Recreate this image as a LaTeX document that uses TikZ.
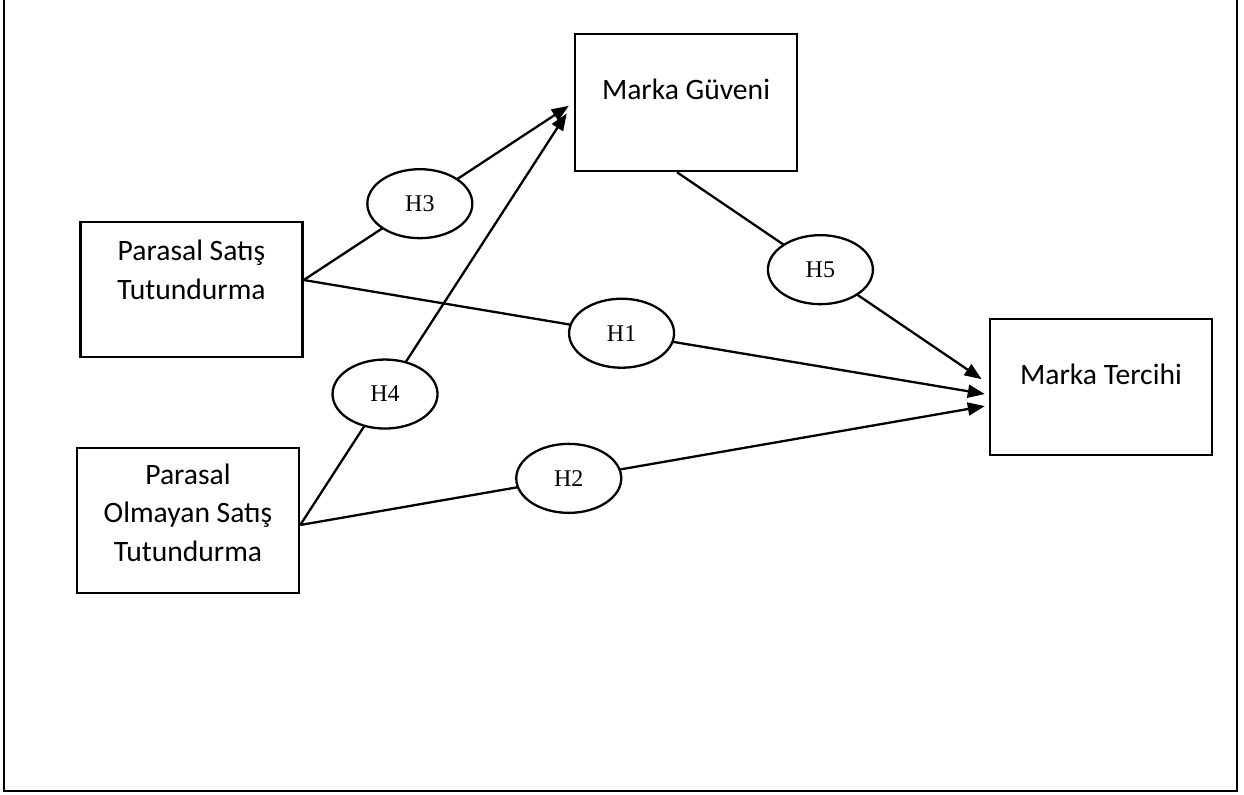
\documentclass[tikz,border=0pt]{standalone}
\usepackage{fontspec}
\setmainfont{Carlito}
\newfontfamily\hipfont{Liberation Serif}
\usetikzlibrary{
  arrows.meta,
  shapes.geometric,
}

\begin{document}
\begin{tikzpicture}[
  x=0.5pt, y=-0.5pt,
  >={Triangle[length=8.5pt, width=6.5pt]},
  kutu/.style={draw, line width=1.25pt, minimum width=111pt, inner sep=0pt},
  yazi/.style={anchor=base, align=center, font=\fontsize{14.8}{19.4}\selectfont},
  hip/.style={draw, ellipse, line width=1.15pt, fill=white, inner sep=0pt,
    minimum width=52.5pt, minimum height=34.5pt,
    font=\hipfont\fontsize{12}{14}\selectfont},
  yol/.style={line width=1.15pt},
]
  \useasboundingbox (0,0) rectangle (1244,794);
  % Outer frame (top edge cut off)
  \draw[line width=1.4pt] (4,-20) -- (4,791) -- (1237,791) -- (1237,-20);

  % Boxes
  \node[kutu, minimum height=67.5pt] (pst) at (191.5,289.5) {};
  \node[yazi] (psttext) at ([yshift=-39.4pt]pst.north) {Parasal Satış\\Tutundurma};

  \node[kutu, minimum height=72.5pt] (pomst) at (188,520.5) {};
  \node[yazi] (pomsttext) at ([yshift=-57.5pt]pomst.north) {Parasal\\Olmayan Satış\\Tutundurma};

  \node[kutu, minimum height=68.5pt] (mg) at (686,102.5) {};
  \node[yazi] (mgtext) at ([yshift=-33.5pt]mg.north) {Marka Güveni};

  \node[kutu, minimum height=68pt] (mt) at (1101,387) {};
  \node[yazi] (mttext) at ([yshift=-33.5pt]mt.north) {Marka Tercihi};

  % Hypotheses
  \draw[yol, ->, shorten >=3pt] ([yshift=4.75pt]pst.east)
    -- node[hip, pos=0.43] (h3) {H3} (mg.west);
  \draw[yol, ->, shorten >=6.5pt] ([yshift=-2.25pt]pomst.east)
    -- node[hip, pos=0.31] (h4) {H4} (mg.west);
  \draw[yol, ->, shorten >=2pt] ([yshift=4.75pt]pst.east)
    -- node[hip, pos=0.464] (h1) {H1} ([yshift=-3.85pt]mt.west);
  \draw[yol, ->, shorten >=2pt] ([yshift=-2.25pt]pomst.east)
    -- node[hip, pos=0.39] (h2) {H2} ([yshift=-9.2pt]mt.west);
  \draw[yol, ->, shorten >=4.3pt] ([xshift=-4.5pt]mg.south)
    -- node[hip, pos=0.46] (h5) {H5} ([yshift=1.5pt]mt.west);

\end{tikzpicture}
\end{document}
